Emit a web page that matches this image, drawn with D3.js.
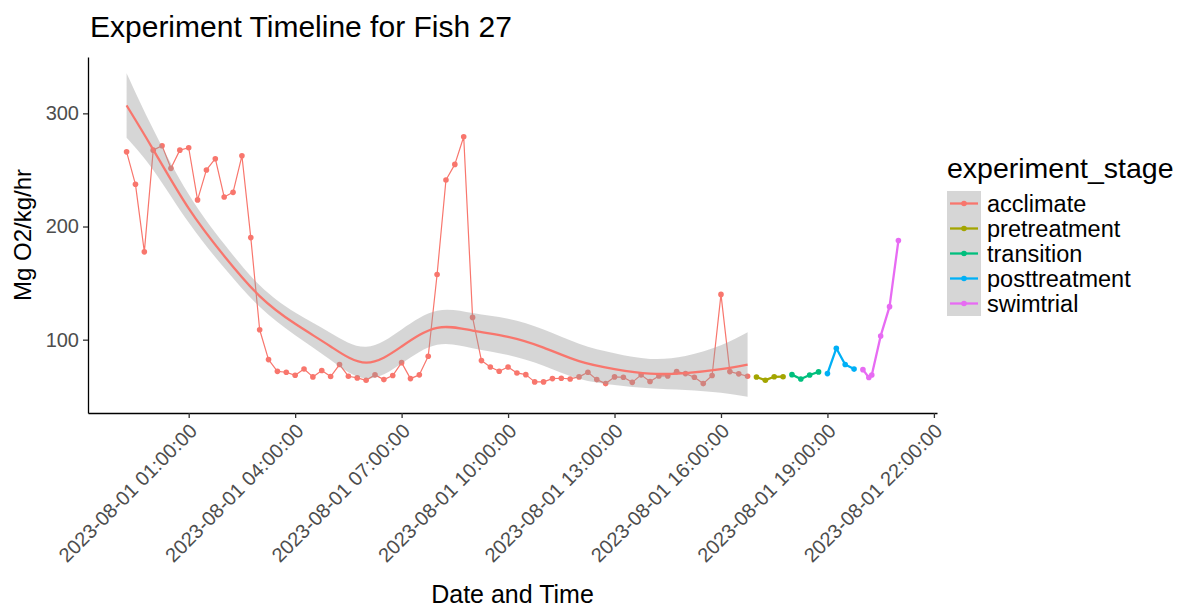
<!DOCTYPE html>
<html>
<head>
<meta charset="utf-8">
<script src="https://cdn.jsdelivr.net/npm/d3@7"></script>
<style>
  body { margin: 0; background: #fff; }
  svg { font-family: "Liberation Sans", Arial, sans-serif; }
</style>
</head>
<body>
<svg id="chart" width="1185" height="608"></svg>
<script>
// Stage names + ggplot hue palette
const STAGES = ['acclimate', 'pretreatment', 'transition', 'posttreatment', 'swimtrial'];
const STAGE_COLORS = ['#F8766D', '#A3A500', '#00BF7D', '#00B0F6', '#E76BF3'];

// acclimate readings, every 15 min
const acclimateTimes = [
  '2023-07-31 23:15', '2023-07-31 23:30', '2023-07-31 23:45',
  '2023-08-01 00:00', '2023-08-01 00:15', '2023-08-01 00:30', '2023-08-01 00:45',
  '2023-08-01 01:00', '2023-08-01 01:15', '2023-08-01 01:30', '2023-08-01 01:45',
  '2023-08-01 02:00', '2023-08-01 02:15', '2023-08-01 02:30', '2023-08-01 02:45',
  '2023-08-01 03:00', '2023-08-01 03:15', '2023-08-01 03:30', '2023-08-01 03:45',
  '2023-08-01 04:00', '2023-08-01 04:15', '2023-08-01 04:30', '2023-08-01 04:45',
  '2023-08-01 05:00', '2023-08-01 05:15', '2023-08-01 05:30', '2023-08-01 05:45',
  '2023-08-01 06:00', '2023-08-01 06:15', '2023-08-01 06:30', '2023-08-01 06:45',
  '2023-08-01 07:00', '2023-08-01 07:15', '2023-08-01 07:30', '2023-08-01 07:45',
  '2023-08-01 08:00', '2023-08-01 08:15', '2023-08-01 08:30', '2023-08-01 08:45',
  '2023-08-01 09:00', '2023-08-01 09:15', '2023-08-01 09:30', '2023-08-01 09:45',
  '2023-08-01 10:00', '2023-08-01 10:15', '2023-08-01 10:30', '2023-08-01 10:45',
  '2023-08-01 11:00', '2023-08-01 11:15', '2023-08-01 11:30', '2023-08-01 11:45',
  '2023-08-01 12:00', '2023-08-01 12:15', '2023-08-01 12:30', '2023-08-01 12:45',
  '2023-08-01 13:00', '2023-08-01 13:15', '2023-08-01 13:30', '2023-08-01 13:45',
  '2023-08-01 14:00', '2023-08-01 14:15', '2023-08-01 14:30', '2023-08-01 14:45',
  '2023-08-01 15:00', '2023-08-01 15:15', '2023-08-01 15:30', '2023-08-01 15:45',
  '2023-08-01 16:00', '2023-08-01 16:15', '2023-08-01 16:30', '2023-08-01 16:45'
];
const acclimateValues = [
  266, 237.3, 177.6, 267.5, 271.4, 251.4, 267.5, 269.6, 223.5, 250, 259.9,
  226.1, 230.2, 262.5, 190.2, 108.8, 82.4, 72.0, 71.2, 68.5, 74.1, 67.1,
  72.7, 67.4, 78.0, 67.7, 66.2, 64.1, 68.9, 64.7, 68.3, 79.7, 65.6, 68.9,
  85.3, 157.6, 241.1, 254.9, 279.3, 119.7, 81.5, 75.9, 72.1, 75.9, 70.6,
  69.1, 62.7, 62.7, 65.6, 65.9, 65.3, 67.1, 71.2, 64.7, 61.2, 67.1, 66.8,
  62.3, 68.9, 63.0, 68.0, 68.0, 71.8, 70.0, 66.8, 61.2, 68.3, 140.0, 71.8,
  69.8, 67.7
];

const pretreatmentTimes = ['2023-08-01 17:00', '2023-08-01 17:15', '2023-08-01 17:30', '2023-08-01 17:45'];
const pretreatmentValues = [67.0, 64.2, 67.2, 67.3];

const transitionTimes = ['2023-08-01 18:00', '2023-08-01 18:15', '2023-08-01 18:30', '2023-08-01 18:45'];
const transitionValues = [69.1, 65.2, 68.8, 71.5];

const posttreatmentTimes = ['2023-08-01 19:00', '2023-08-01 19:15', '2023-08-01 19:30', '2023-08-01 19:45'];
const posttreatmentValues = [70.0, 92.4, 78.1, 74.0];

const swimtrialTimes = ['2023-08-01 20:00', '2023-08-01 20:10', '2023-08-01 20:15', '2023-08-01 20:30', '2023-08-01 20:45', '2023-08-01 21:00'];
const swimtrialValues = [73.5, 66.6, 68.8, 103.3, 129.2, 187.6];

// loess fit for acclimate + 95% band
const smoothTimes = [
  '2023-07-31 23:15', '2023-08-01 00:00', '2023-08-01 01:00', '2023-08-01 02:00',
  '2023-08-01 03:00', '2023-08-01 04:00', '2023-08-01 05:00', '2023-08-01 06:00',
  '2023-08-01 07:00', '2023-08-01 08:00', '2023-08-01 09:00', '2023-08-01 10:00',
  '2023-08-01 11:00', '2023-08-01 12:00', '2023-08-01 13:00', '2023-08-01 14:00',
  '2023-08-01 15:00', '2023-08-01 16:00', '2023-08-01 16:45'
];
const smoothFit = [307, 268, 216, 174, 138.5, 114, 94, 79.7, 94, 110.5, 108, 102.5, 93, 81, 74, 70, 70.5, 74, 78];
const smoothLower = [278.5, 250, 203.5, 163.5, 129, 104, 82, 65.7, 79, 95.5, 92.5, 86.5, 77, 65.5, 60, 57, 55.5, 53, 49.5];
const smoothUpper = [335.5, 286, 228.5, 184.5, 148, 124, 106, 93.7, 109, 125.5, 123.5, 118.5, 109, 96.5, 88, 83, 85.5, 95, 106.5];

const xTickLabels = [
  '2023-08-01 01:00:00', '2023-08-01 04:00:00', '2023-08-01 07:00:00', '2023-08-01 10:00:00',
  '2023-08-01 13:00:00', '2023-08-01 16:00:00', '2023-08-01 19:00:00', '2023-08-01 22:00:00'
];
const yTicks = [100, 200, 300];

// ---- setup
const parseTime = d3.timeParse('%Y-%m-%d %H:%M');
const parseTick = d3.timeParse('%Y-%m-%d %H:%M:%S');
const fmtTick = d3.timeFormat('%Y-%m-%d %H:%M:%S');

const panel = { left: 88, right: 937, top: 57, bottom: 413 };

const stageData = [
  [acclimateTimes, acclimateValues],
  [pretreatmentTimes, pretreatmentValues],
  [transitionTimes, transitionValues],
  [posttreatmentTimes, posttreatmentValues],
  [swimtrialTimes, swimtrialValues]
].map(([times, vals], i) => ({
  stage: STAGES[i],
  color: STAGE_COLORS[i],
  points: times.map((t, j) => ({ t: parseTime(t), v: vals[j] }))
}));

const smooth = smoothTimes.map((t, i) => ({
  t: parseTime(t), fit: smoothFit[i], lo: smoothLower[i], hi: smoothUpper[i]
}));

// ggplot style 5% expansion
const allPts = stageData.flatMap(s => s.points);
const tExt = d3.extent(allPts, d => d.t);
const tPad = (tExt[1] - tExt[0]) * 0.05;
const vMin = d3.min([d3.min(allPts, d => d.v), d3.min(smooth, d => d.lo)]);
const vMax = d3.max([d3.max(allPts, d => d.v), d3.max(smooth, d => d.hi)]);
const vPad = (vMax - vMin) * 0.05;

const x = d3.scaleTime()
  .domain([new Date(+tExt[0] - tPad), new Date(+tExt[1] + tPad)])
  .range([panel.left, panel.right]);
const y = d3.scaleLinear()
  .domain([vMin - vPad, vMax + vPad])
  .range([panel.bottom, panel.top]);

const svg = d3.select('#chart');

// ---- data layers
const lineGen = d3.line().x(d => x(d.t)).y(d => y(d.v));

const marks = svg.append('g');
stageData.forEach(s => {
  marks.append('path')
    .datum(s.points)
    .attr('d', lineGen)
    .attr('fill', 'none')
    .attr('stroke', s.color)
    .attr('stroke-width', s.stage === 'acclimate' ? 1.2 : 2.3)
    .attr('stroke-linejoin', 'round');
  marks.append('g')
    .selectAll('circle')
    .data(s.points)
    .enter()
    .append('circle')
    .attr('cx', d => x(d.t))
    .attr('cy', d => y(d.v))
    .attr('r', 2.8)
    .attr('fill', s.color);
});

// smooth ribbon sits over the points (alpha), then the fit line
const area = d3.area()
  .x(d => x(d.t))
  .y0(d => y(d.lo))
  .y1(d => y(d.hi))
  .curve(d3.curveNatural);
svg.append('path')
  .datum(smooth)
  .attr('d', area)
  .attr('fill', '#999999')
  .attr('fill-opacity', 0.4);

svg.append('path')
  .datum(smooth)
  .attr('d', d3.line().x(d => x(d.t)).y(d => y(d.fit)).curve(d3.curveNatural))
  .attr('fill', 'none')
  .attr('stroke', STAGE_COLORS[0])
  .attr('stroke-width', 2.3);

// ---- axes
const yAxis = svg.append('g')
  .attr('transform', `translate(${panel.left},0)`)
  .call(d3.axisLeft(y).tickValues(yTicks).tickSize(5).tickSizeOuter(0).tickPadding(4));
yAxis.select('.domain').attr('stroke', '#000').attr('stroke-width', 1.3);
yAxis.selectAll('.tick line').attr('stroke', '#333').attr('stroke-width', 1.3);
yAxis.selectAll('.tick text')
  .attr('fill', '#4d4d4d')
  .attr('font-size', 20)
  .attr('font-family', '"Liberation Sans", Arial, sans-serif');

const xAxis = svg.append('g')
  .attr('transform', `translate(0,${panel.bottom})`)
  .call(d3.axisBottom(x)
    .tickValues(xTickLabels.map(parseTick))
    .tickFormat(fmtTick)
    .tickSize(5)
    .tickSizeOuter(0));
xAxis.select('.domain').attr('stroke', '#000').attr('stroke-width', 1.3);
xAxis.selectAll('.tick line').attr('stroke', '#333').attr('stroke-width', 1.3);
xAxis.selectAll('.tick text')
  .attr('fill', '#4d4d4d')
  .attr('font-size', 20)
  .attr('font-family', '"Liberation Sans", Arial, sans-serif')
  .attr('text-anchor', 'end')
  .attr('y', null)
  .attr('dy', '0.72em')
  .attr('transform', 'translate(-1,9) rotate(-45)');

// ---- titles
svg.append('text')
  .attr('x', 90)
  .attr('y', 37)
  .attr('font-size', 30)
  .attr('fill', '#000')
  .text('Experiment Timeline for Fish 27');

svg.append('text')
  .attr('x', (panel.left + panel.right) / 2)
  .attr('y', 603)
  .attr('text-anchor', 'middle')
  .attr('font-size', 25)
  .attr('fill', '#000')
  .text('Date and Time');

svg.append('text')
  .attr('transform', `translate(31,${(panel.top + panel.bottom) / 2}) rotate(-90)`)
  .attr('text-anchor', 'middle')
  .attr('font-size', 24)
  .attr('fill', '#000')
  .text('Mg O2/kg/hr');

// ---- legend
const legend = svg.append('g').attr('transform', 'translate(947,0)');
legend.append('text')
  .attr('x', 0)
  .attr('y', 178)
  .attr('font-size', 28.5)
  .attr('fill', '#000')
  .text('experiment_stage');

const keyH = 25, keyW = 34, keyTop = 191;
STAGES.forEach((stage, i) => {
  const ky = keyTop + i * keyH;
  const g = legend.append('g').attr('transform', `translate(0,${ky})`);
  g.append('rect')
    .attr('width', keyW)
    .attr('height', keyH)
    .attr('fill', '#999999')
    .attr('fill-opacity', 0.4);
  g.append('line')
    .attr('x1', 3).attr('x2', keyW - 3)
    .attr('y1', keyH / 2).attr('y2', keyH / 2)
    .attr('stroke', STAGE_COLORS[i])
    .attr('stroke-width', 2.3);
  g.append('circle')
    .attr('cx', keyW / 2)
    .attr('cy', keyH / 2)
    .attr('r', 2.8)
    .attr('fill', STAGE_COLORS[i]);
  g.append('text')
    .attr('x', keyW + 6)
    .attr('y', keyH / 2)
    .attr('dy', '0.35em')
    .attr('font-size', 23.5)
    .attr('fill', '#000')
    .text(stage);
});
</script>
</body>
</html>
